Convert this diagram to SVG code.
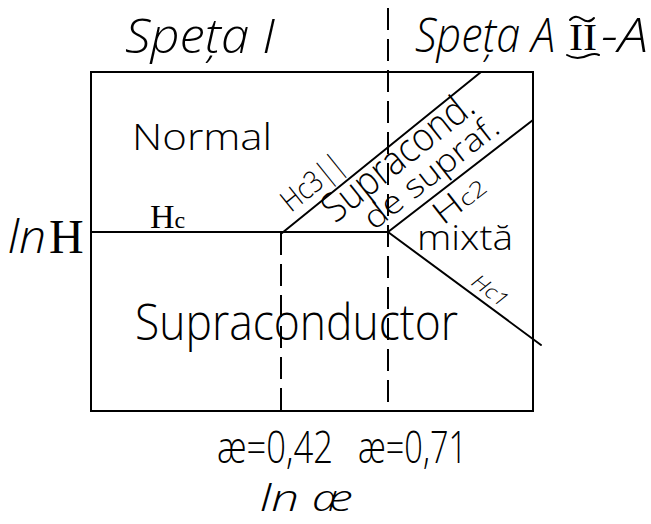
<svg xmlns="http://www.w3.org/2000/svg" width="651" height="524" viewBox="0 0 651 524">
<style>
.t{font-family:"Open Sans","Liberation Sans",sans-serif;font-weight:300;fill:#000}
.i{font-style:italic}
.s{font-family:"Liberation Serif","DejaVu Serif",serif;fill:#000}
.ln{stroke:#000;stroke-width:2;fill:none;stroke-linecap:round}
.d{stroke:#000;stroke-width:2;fill:none;stroke-dasharray:22 9}
</style>
<rect width="651" height="524" fill="#fff"/>
<g id="connectors">
<rect class="ln" x="91" y="72" width="442" height="339"/>
<line class="ln" x1="91" y1="232" x2="388" y2="232"/>
<line class="d" x1="281" y1="233" x2="281" y2="411"/>
<line class="d" x1="388" y1="8" x2="388" y2="411"/>
<line class="ln" x1="282" y1="233" x2="481" y2="72"/>
<line class="ln" x1="388" y1="232" x2="533" y2="120"/>
<line class="ln" x1="388" y1="232" x2="541" y2="345"/>
</g>
<g id="title-left"><text class="t i" x="125" y="53" font-size="48" textLength="150" lengthAdjust="spacingAndGlyphs">Speța I</text></g>
<g id="title-right">
<text class="t i" x="415" y="52" font-size="48" textLength="140" lengthAdjust="spacingAndGlyphs">Speța A</text>
<text class="s" x="569" y="50" font-size="38" textLength="28" lengthAdjust="spacingAndGlyphs">II</text>
<path class="ln" stroke-width="1.6" d="M570 20 q5 -6 12 -1 t12 -1"/>
<path class="ln" stroke-width="1.6" d="M567 55 q10 6 22 0 q6 -2 10 0"/>
<text class="t i" x="601" y="52" font-size="48" textLength="47" lengthAdjust="spacingAndGlyphs">-A</text>
</g>
<g id="normal"><text class="t" x="132" y="150" font-size="36" textLength="140" lengthAdjust="spacingAndGlyphs">Normal</text></g>
<g id="hc"><text class="s" x="150" y="228" font-size="34">H<tspan font-size="24">c</tspan></text></g>
<g id="lnH"><text class="t i" x="8" y="253" font-size="46" textLength="38" lengthAdjust="spacingAndGlyphs">ln</text><text class="s" x="49" y="253" font-size="48">H</text></g>
<g id="supraconductor"><text class="t" x="135" y="340" font-size="50" textLength="323" lengthAdjust="spacingAndGlyphs">Supraconductor</text></g>
<g id="mixta"><text class="t" x="417" y="250" font-size="34" textLength="96" lengthAdjust="spacingAndGlyphs">mixtă</text></g>
<g id="hc3"><text class="t" transform="translate(291,213) rotate(-39)" font-size="30" textLength="72" lengthAdjust="spacingAndGlyphs">Hc3||</text></g>
<g id="supracond"><text class="t" transform="translate(335,224) rotate(-38.5)" font-size="40" textLength="182" lengthAdjust="spacingAndGlyphs">Supracond.</text></g>
<g id="desupraf"><text class="t" transform="translate(374,231) rotate(-38)" font-size="32" textLength="162" lengthAdjust="spacingAndGlyphs">de supraf.</text></g>
<g id="hc2"><text class="t" transform="translate(443,226) rotate(-38)" font-size="32" textLength="58" lengthAdjust="spacingAndGlyphs">H<tspan font-size="22">c2</tspan></text></g>
<g id="hc1"><text class="t i" transform="translate(470,284) rotate(37)" font-size="20" textLength="40" lengthAdjust="spacingAndGlyphs">Hc1</text></g>
<g id="kappa"><text class="t" x="217" y="463" font-size="44" textLength="116" lengthAdjust="spacingAndGlyphs">æ=0,42</text><text class="t" x="358" y="463" font-size="44" textLength="109" lengthAdjust="spacingAndGlyphs">æ=0,71</text></g>
<g id="lnk"><text class="t i" x="260" y="511" font-size="36" textLength="93" lengthAdjust="spacingAndGlyphs">ln æ</text></g>
</svg>
